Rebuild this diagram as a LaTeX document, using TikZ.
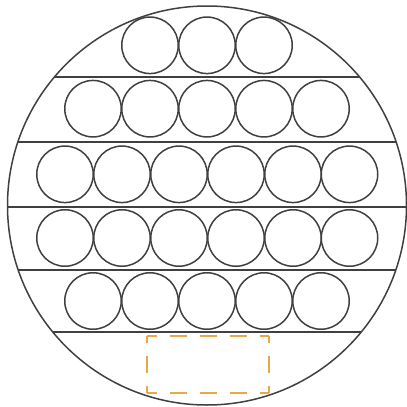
\documentclass[tikz,border=0pt]{standalone}
\definecolor{ink}{HTML}{404040}
\definecolor{amber}{HTML}{E8A84A}
\begin{document}
\begin{tikzpicture}[x=1pt,y=-1pt,
  ball/.style={circle,draw=ink,line width=1.5pt,minimum size=56.5pt,inner sep=0pt},
  rim/.style={draw=ink,line width=1.5pt},
  slot/.style={draw=amber,line width=1.6pt,dash pattern=on 17pt off 13pt}]
\useasboundingbox (0,0) rectangle (407,407);
\coordinate (c) at (207,205.5);
\draw[rim] (c) circle (199.5);
% chords
\foreach \yy in {77,142,207,270,332}{
  \pgfmathsetmacro{\hw}{10*sqrt((19.95-(\yy-205.5)/10)*(19.95+(\yy-205.5)/10))}
  \draw[rim] (207-\hw,\yy) -- (207+\hw,\yy);
}
% row 1
\foreach \i/\xx in {1/150,2/207,3/264}{\node[ball] (a\i) at (\xx,45.3) {};}
% row 2
\foreach \i/\xx in {1/93,2/150,3/207,4/264,5/321}{\node[ball] (b\i) at (\xx,108.7) {};}
% row 3
\foreach \i/\xx in {1/65,2/122,3/179,4/236,5/293,6/349.5}{\node[ball] (r\i) at (\xx,174.3) {};}
% row 4
\foreach \i/\xx in {1/65,2/122,3/179,4/236,5/293,6/349.5}{\node[ball] (s\i) at (\xx,238) {};}
% row 5
\foreach \i/\xx in {1/93,2/150,3/207,4/264,5/321}{\node[ball] (t\i) at (\xx,301) {};}
% dashed slot
\coordinate (p1) at (147,336);
\coordinate (p2) at (269,336);
\coordinate (p3) at (269,393);
\coordinate (p4) at (147,393);
\draw[slot,dash phase=7.5pt] (p1) -- (p2);
\draw[slot,dash phase=7.5pt] (p4) -- (p3);
\draw[slot,dash phase=10pt] (p1) -- (p4);
\draw[slot,dash phase=10pt] (p2) -- (p3);
\end{tikzpicture}
\end{document}
